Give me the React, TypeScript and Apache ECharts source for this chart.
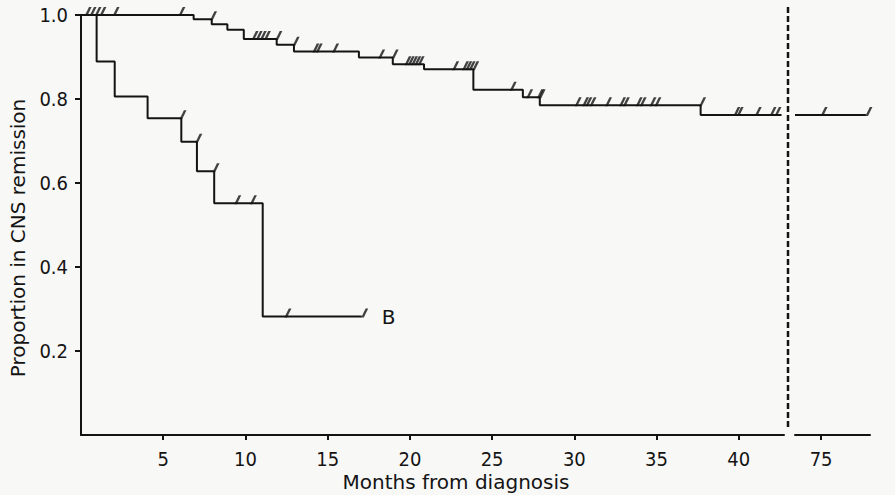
import React, { useEffect, useRef } from "react";
import * as echarts from "echarts";

// ---- Data (months from diagnosis, proportion in CNS remission) ----
// Curve A (upper curve): times at which the curve steps down, and the level after each step
const eventTimesA = [6.85, 7.95, 8.9, 9.9, 11.9, 12.95, 16.9, 18.96, 20.86, 23.86, 26.87, 27.9, 37.68];
const levelsA = [0.99, 0.978, 0.965, 0.943, 0.929, 0.913, 0.899, 0.883, 0.871, 0.822, 0.804, 0.785, 0.762];
// Censored observations for curve A (first panel)
const censorA = [
  0.25, 0.55, 0.85, 1.15, 1.95, 5.95, 7.88, 10.4, 10.65, 10.9, 11.15, 11.85, 12.9,
  14.1, 14.3, 15.3, 18.1, 18.92, 19.7, 19.9, 20.1, 20.3, 20.5, 22.6, 23.2, 23.4,
  23.6, 23.82, 26.1, 27.1, 27.75, 27.86, 30.05, 30.5, 30.7, 30.95, 31.9, 32.75,
  32.98, 33.76, 34.0, 34.6, 34.9, 37.62, 39.7, 39.9, 41.0, 41.9, 42.2,
];
const followUpEndA = 42.6;
// Curve A after the axis break
const lateStartA = 73.4;
const lateEndA = 77.75;
const censorLateA = [75.0, 77.75];

// Curve B (lower curve)
const eventTimesB = [0.95, 2.05, 4.05, 6.1, 7.05, 8.1, 11.05];
const levelsB = [0.889, 0.806, 0.754, 0.698, 0.628, 0.552, 0.282];
const censorB = [6.02, 6.98, 8.03, 9.35, 10.3, 12.4, 17.07];
const followUpEndB = 17.07;

// Axis ticks
const xTicks = [5, 10, 15, 20, 25, 30, 35, 40];
const xTicksLate = [75];
const yTicks = [0.2, 0.4, 0.6, 0.8, 1.0];

const levelAt = (times: number[], levels: number[], t: number) => {
  let v = 1.0;
  for (let i = 0; i < times.length; i++) if (times[i] <= t) v = levels[i];
  return v;
};

const stepData = (times: number[], levels: number[], end: number) => {
  const d: number[][] = [[0, 1.0]];
  times.forEach((t, i) => d.push([t, levels[i]]));
  d.push([end, levels[levels.length - 1]]);
  return d;
};

const censorData = (times: number[], levels: number[], cens: number[]) =>
  cens.map((t) => [t, levelAt(times, levels, t)]);

const INK = "#141414";
const tickFont = "'Liberation Sans Narrow', 'DejaVu Sans Condensed', sans-serif";
const titleFont = "'DejaVu Sans', sans-serif";
const censorSymbol = "path://M0,9L2.6,9L7,0L4.4,0Z";

export default function App() {
  const ref = useRef<HTMLDivElement>(null);
  useEffect(() => {
    if (!ref.current) return;
    const chart = echarts.init(ref.current, null, { renderer: "svg" });
    const lastA = levelsA[levelsA.length - 1];
    const axisLine = { show: true, lineStyle: { color: INK, width: 2 } };
    const censorSeries = (data: number[][], xi: number) => ({
      type: "scatter",
      xAxisIndex: xi,
      yAxisIndex: xi,
      data,
      symbol: censorSymbol,
      symbolSize: [7, 9],
      symbolOffset: [3, -3.5],
      itemStyle: { color: INK },
      clip: false,
      silent: true,
    });
    chart.setOption({
      animation: false,
      backgroundColor: "#f8f8f7",
      grid: [
        { left: 81, top: 15, width: 703, bottom: 60 },
        { left: 795, top: 15, width: 75, bottom: 60 },
      ],
      xAxis: [
        {
          type: "value",
          gridIndex: 0,
          min: 0,
          max: 42.75,
          splitLine: { show: false },
          axisLine,
          axisTick: { show: true, length: 5, lineStyle: { color: INK, width: 2 }, customValues: xTicks },
          axisLabel: { color: INK, fontSize: 20, fontFamily: tickFont, margin: 14, customValues: xTicks },
        },
        {
          type: "value",
          gridIndex: 1,
          min: lateStartA,
          max: 78,
          splitLine: { show: false },
          axisLine,
          axisTick: { show: true, length: 5, lineStyle: { color: INK, width: 2 }, customValues: xTicksLate },
          axisLabel: { color: INK, fontSize: 20, fontFamily: tickFont, margin: 14, customValues: xTicksLate },
        },
      ],
      yAxis: [
        {
          type: "value",
          gridIndex: 0,
          min: 0,
          max: 1,
          splitLine: { show: false },
          axisLine,
          axisTick: { show: true, length: 6, lineStyle: { color: INK, width: 2 }, customValues: yTicks },
          axisLabel: {
            color: INK,
            fontSize: 20,
            fontFamily: tickFont,
            margin: 13,
            customValues: yTicks,
            formatter: (v: number) => v.toFixed(1),
          },
        },
        {
          type: "value",
          gridIndex: 1,
          min: 0,
          max: 1,
          show: false,
          splitLine: { show: false },
        },
      ],
      graphic: [
        {
          type: "line",
          shape: { x1: 788, y1: 7, x2: 788, y2: 430 },
          style: { stroke: INK, lineWidth: 2.5, lineDash: [6, 3] },
          silent: true,
        },
        {
          type: "text",
          x: 18,
          y: 238,
          rotation: Math.PI / 2,
          style: {
            text: "Proportion in CNS remission",
            fill: INK,
            font: `20px ${titleFont}`,
            textAlign: "center",
            textVerticalAlign: "middle",
          },
        },
        {
          type: "text",
          x: 456,
          y: 482,
          style: {
            text: "Months from diagnosis",
            fill: INK,
            font: `20px ${titleFont}`,
            textAlign: "center",
            textVerticalAlign: "middle",
          },
        },
      ],
      series: [
        {
          type: "line",
          xAxisIndex: 0,
          yAxisIndex: 0,
          step: "end",
          data: stepData(eventTimesA, levelsA, followUpEndA),
          showSymbol: false,
          clip: false,
          lineStyle: { color: INK, width: 2 },
          silent: true,
        },
        censorSeries(censorData(eventTimesA, levelsA, censorA), 0),
        {
          type: "line",
          xAxisIndex: 0,
          yAxisIndex: 0,
          step: "end",
          data: stepData(eventTimesB, levelsB, followUpEndB),
          showSymbol: false,
          clip: false,
          lineStyle: { color: INK, width: 2 },
          endLabel: {
            show: true,
            formatter: "B",
            color: INK,
            fontSize: 20,
            fontFamily: titleFont,
            distance: 20,
          },
          silent: true,
        },
        censorSeries(censorData(eventTimesB, levelsB, censorB), 0),
        {
          type: "line",
          xAxisIndex: 1,
          yAxisIndex: 1,
          data: [
            [lateStartA, lastA],
            [lateEndA, lastA],
          ],
          showSymbol: false,
          clip: false,
          lineStyle: { color: INK, width: 2 },
          silent: true,
        },
        censorSeries(censorLateA.map((t) => [t, lastA]), 1),
      ],
    });
    return () => chart.dispose();
  }, []);
  return (
    <div
      ref={ref}
      style={{ position: "fixed", left: 0, top: 0, width: 895, height: 495 }}
    />
  );
}
